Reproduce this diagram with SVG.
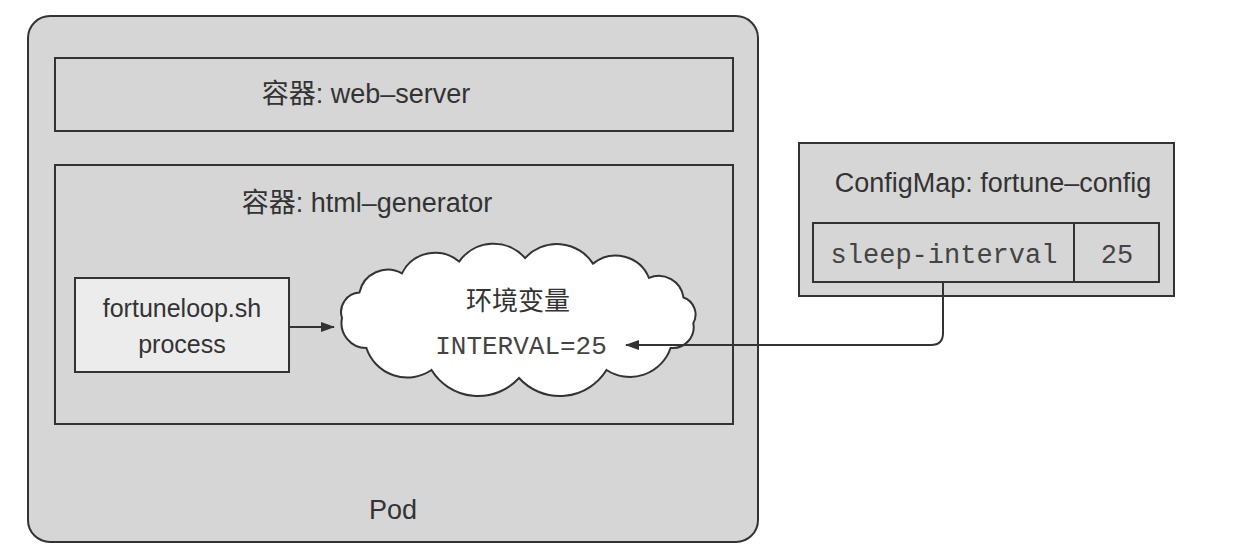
<svg xmlns="http://www.w3.org/2000/svg" width="1248" height="560" viewBox="0 0 1248 560">
<defs>
<marker id="arr" markerUnits="userSpaceOnUse" markerWidth="14" markerHeight="10" refX="13" refY="5" orient="auto">
<path d="M0,0 L14,5 L0,10 Z" fill="#333"/>
</marker>
</defs>
<style>
.box{fill:#d6d6d6;stroke:#333;stroke-width:2}
.light{fill:#ececec;stroke:#333;stroke-width:2}
.sans{font-family:"Liberation Sans","Noto Sans CJK SC",sans-serif;fill:#333;text-anchor:middle}
.mono{font-family:"Liberation Mono",monospace;fill:#444;text-anchor:middle}
.conn{fill:none;stroke:#333;stroke-width:2}
</style>
<rect width="1248" height="560" fill="#ffffff"/>
<g id="pod">
<rect class="box" x="28" y="16" width="730" height="526" rx="22" ry="22"/>
<text class="sans" x="393" y="519" font-size="27">Pod</text>
</g>
<g id="web-server">
<rect class="box" x="55" y="58" width="678" height="73"/>
<text class="sans" x="366" y="103" font-size="27">容器: web–server</text>
</g>
<g id="html-generator">
<rect class="box" x="55" y="165" width="678" height="259"/>
<text class="sans" x="367" y="212" font-size="27">容器: html–generator</text>
</g>
<g id="fortuneloop">
<rect class="light" x="75" y="278" width="214" height="94"/>
<text class="sans" x="182" y="317" font-size="25">fortuneloop.sh</text>
<text class="sans" x="182" y="353" font-size="25">process</text>
</g>
<g id="env-cloud">
<path fill="#ffffff" stroke="#333" stroke-width="2" d="M342,318 A19.5,19.5 0 0 1 359.4,292.6 A29,29 0 0 1 401.9,273.4 A37,37 0 0 1 459.1,261.6 A42,42 0 0 1 525.1,258.1 A43,43 0 0 1 593,263.6 A36,36 0 0 1 649,277.9 A25,25 0 0 1 683.5,297.5 A18,18 0 0 1 693.3,323.2 A21,21 0 0 1 670.6,348 A43,43 0 0 1 606.5,370 A55,55 0 0 1 519,378 A55,55 0 0 1 431.5,370 A43,43 0 0 1 366.4,348 A25,25 0 0 1 342,318 Z"/>
<text class="sans" x="518" y="310" font-size="26">环境变量</text>
<text class="mono" x="521" y="354" font-size="26">INTERVAL=25</text>
</g>
<g id="configmap">
<rect class="box" x="799" y="143" width="375" height="153"/>
<text class="sans" x="993" y="192" font-size="27">ConfigMap: fortune–config</text>
<rect class="box" x="813" y="223" width="346" height="59"/>
<line x1="1074" y1="223" x2="1074" y2="282" stroke="#333" stroke-width="2"/>
<text class="mono" x="944" y="263" font-size="27">sleep-interval</text>
<text class="mono" x="1117" y="263" font-size="27">25</text>
</g>
<g id="connectors">
<line class="conn" x1="289" y1="327" x2="334" y2="327" marker-end="url(#arr)"/>
<path class="conn" d="M943,282 V333 Q943,345 931,345 H626" marker-end="url(#arr)"/>
</g>
</svg>
